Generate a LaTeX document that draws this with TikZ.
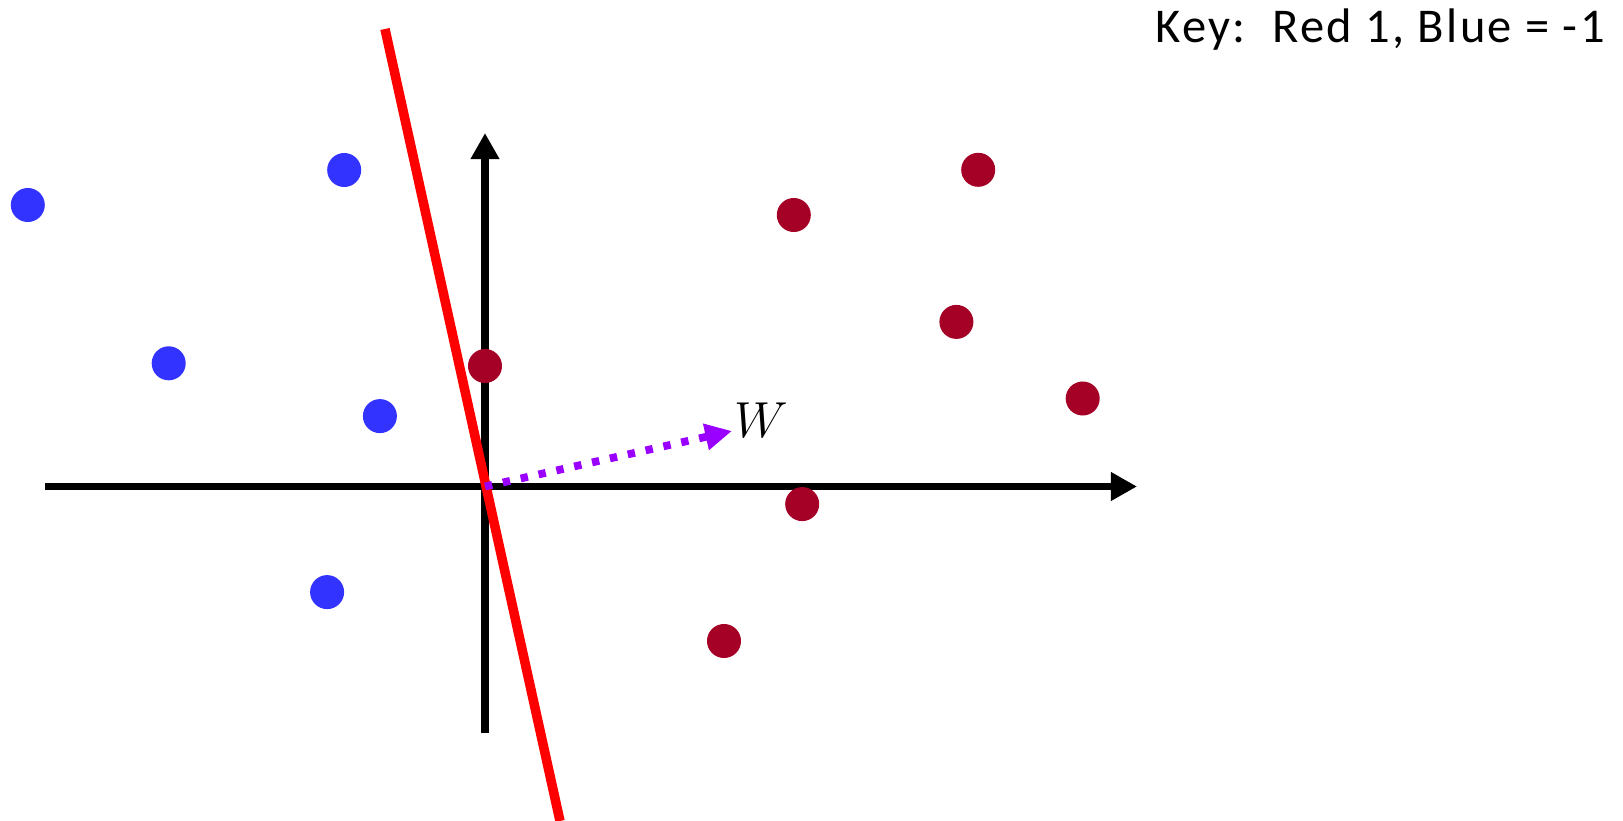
\documentclass[tikz,border=0pt]{standalone}
\usepackage{fontspec}
\setmainfont{Carlito}
\usetikzlibrary{arrows.meta}
\definecolor{ptblue}{RGB}{51,51,255}
\definecolor{ptred}{RGB}{165,0,38}
\definecolor{wviolet}{RGB}{153,0,255}
\tikzset{
  bluept/.style={circle, fill=ptblue, inner sep=0pt, minimum size=0.34cm},
  redpt/.style={circle, fill=ptred, inner sep=0pt, minimum size=0.34cm},
  axis/.style={line width=2.2pt, -{Triangle[length=7.4pt, width=7.7pt]}}
}
\begin{document}
\begin{tikzpicture}[x=0.01cm, y=-0.01cm]
\useasboundingbox (0,0) rectangle (1623,821);

% axes
\coordinate (O) at (485,486.5);
\coordinate (xl) at (45,486.5);
\coordinate (xr) at (1137,486.5);
\coordinate (yb) at (485,733);
\coordinate (yt) at (485,133);
\draw[axis] (xl)--(xr);
\draw[axis] (yb)--(yt);

% separating line
\coordinate (lt) at (385,29);
\coordinate (lb) at (560,821);
\draw[red, line width=2.7pt] (lt)--(lb);

% class -1
\node[bluept] (b1) at (27.8,205) {};
\node[bluept] (b2) at (344.2,170) {};
\node[bluept] (b3) at (168.7,363.3) {};
\node[bluept] (b4) at (379.9,416.1) {};
\node[bluept] (b5) at (327.1,592.1) {};

% class 1
\node[redpt] (r1) at (485,366) {};
\node[redpt] (r2) at (793.8,215) {};
\node[redpt] (r3) at (978.2,169.8) {};
\node[redpt] (r4) at (956.4,321.9) {};
\node[redpt] (r5) at (1082.7,398.5) {};
\node[redpt] (r6) at (802.2,504.1) {};
\node[redpt] (r7) at (724,641) {};

% weight vector
\coordinate (wtip) at (732,431);
\draw[wviolet, line width=2.2pt, dash pattern=on 2.1pt off 3.1pt,
  -{Triangle[length=7.6pt, width=7.2pt]}] (O)--(wtip);
\node[font=\fontsize{15}{15}\selectfont] (wlab) at (761,420) {$W$};

\node[anchor=base west, inner sep=0pt, font=\fontsize{13.8}{16}\selectfont\addfontfeature{LetterSpace=4.8}] (key) at (1155,43) {Key:\ \ Red 1, Blue = -1};
\end{tikzpicture}
\end{document}
